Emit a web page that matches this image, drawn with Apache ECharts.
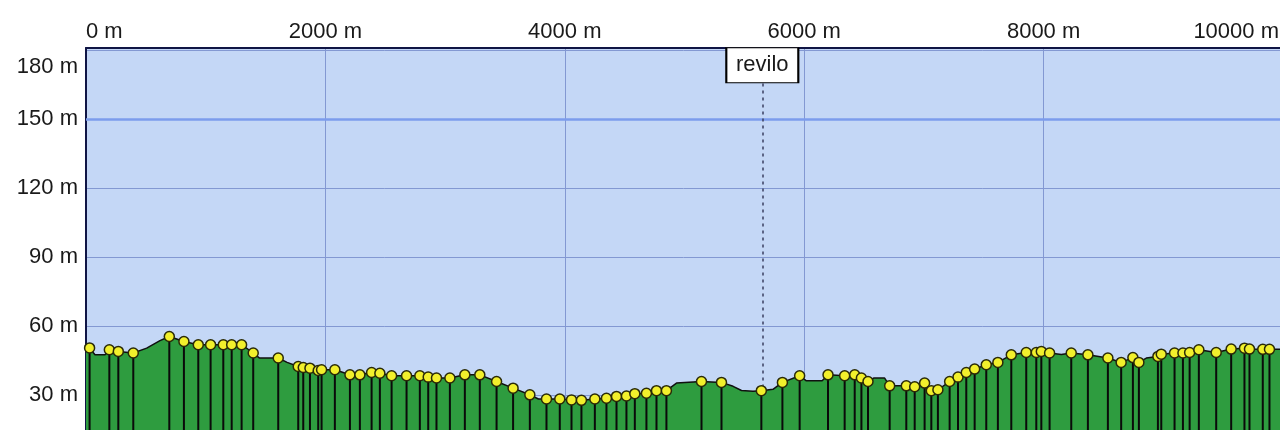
<!DOCTYPE html>
<html>
<head>
<meta charset="utf-8">
<script src="https://cdn.jsdelivr.net/npm/echarts@6/dist/echarts.min.js"></script>
<style>
html,body{margin:0;padding:0;background:#fff;}
#c{width:1280px;height:430px;}
</style>
</head>
<body>
<div id="c"></div>
<script>
// Distance ticks (m) and elevation ticks (m)
const xTicks = [0, 2000, 4000, 6000, 8000, 10000];
const yTicks = [30, 60, 90, 120, 150, 180];

// Waypoints (distance m, elevation m) — yellow dots with drop lines
const waypointDist = [30,195,270,395,696,818,938,1041,1147,1217,1300,1397,1606,1773,1815,1871,1940,
  1968,2079,2205,2288,2386,2455,2553,2678,2789,2859,2928,3040,3165,3290,3430,3568,3708,3847,3958,
  4056,4139,4251,4348,4432,4515,4585,4682,4766,4849,5142,5309,5642,5818,5962,
  6199,6338,6422,6478,6533,6714,6853,6923,7006,7062,7117,7215,7285,7354,7424,7521,7618,7730,7855,7939,
  7981,8050,8231,8370,8537,8648,8746,8796,8955,8983,9094,9164,9220,9297,9442,9567,9678,9720,9831,9887];
const waypointElev = [50.5,49.7,49,48.3,55.5,53.3,51.9,51.9,51.9,51.9,51.9,48.3,46.1,42.4,42,41.7,40.7,
  41,41,38.8,38.8,39.8,39.5,38.4,38.4,38.4,37.8,37.4,37.4,38.8,38.8,35.9,33,30.1,28.3,28.3,
  27.9,27.7,28.3,28.6,29.4,29.6,30.6,30.8,31.9,31.9,35.9,35.5,31.9,35.5,38.4,
  38.8,38.4,38.8,37.4,35.9,34,34,33.6,35.2,31.9,32.3,35.9,37.8,39.8,41.3,43.2,44.2,47.5,48.5,48.5,
  49,48.3,48.3,47.5,46.1,44.2,46.3,44.2,46.8,47.8,48.3,48.3,48.5,49.7,48.5,50,50.4,50,49.9,49.9];

// Extra profile vertices without waypoint markers
const profileDist = [0,75,159,507,618,1450,1680,3780,4933,5406,5476,5572,5739,6018,6150,6580,6672,8148,8858,10000];
const profileElev = [50.5,47.5,47.5,50.4,53.7,46.1,44.2,28.3,35.2,33.8,32,31.7,32.5,36.2,36.2,37.4,37.4,47.6,46.1,50];

// Marker
const markerName = 'revilo';
const markerDist = 5650;
const markerElev = 32;

const waypoints = waypointDist.map((d,i)=>[d, waypointElev[i]]);
const profile = waypoints.concat(profileDist.map((d,i)=>[d, profileElev[i]])).sort((a,b)=>a[0]-b[0]);

const FONT = 'Liberation Sans, Arial, sans-serif';
const FS = 22;
const TXT = '#1a1a1a';
const chart = echarts.init(document.getElementById('c'), null, {renderer:'canvas'});
chart.setOption({
  animation:false,
  backgroundColor:'#ffffff',
  grid:{left:86, top:48, width:1197, height:416, outerBoundsMode:'none', containLabel:false,
    show:true, backgroundColor:'#C4D7F6', borderWidth:0},
  xAxis:{
    type:'value', position:'top', min:xTicks[0], max:xTicks[xTicks.length-1], interval:2000,
    axisLine:{show:true, onZero:false, lineStyle:{color:'#101545', width:2}},
    axisTick:{show:false},
    axisLabel:{formatter:v=> v===xTicks[xTicks.length-1] ? '{r|'+v+' m}' : v+' m',
      fontFamily:FONT, fontSize:FS, color:TXT, margin:5,
      alignMinLabel:'left', alignMaxLabel:'right',
      rich:{r:{fontFamily:FONT, fontSize:FS, color:TXT, padding:[0,4,0,0]}}},
    splitLine:{show:true, lineStyle:{color:'#8398D2', width:1}}
  },
  yAxis:{
    type:'value', min:0, max:181, interval:30,
    axisLine:{show:true, onZero:false, lineStyle:{color:'#101545', width:2}},
    axisTick:{show:false},
    showMaxLabel:false,
    axisLabel:{fontFamily:FONT, fontSize:FS, color:TXT, margin:8,
      formatter:v=> yTicks.indexOf(v)<0 ? '' : (v===180 ? '{t|'+v+' m}' : v+' m'),
      rich:{t:{fontFamily:FONT, fontSize:FS, color:TXT, padding:[34,0,0,0]}}},
    splitLine:{show:true, lineStyle:{color:'#8398D2', width:1}}
  },
  series:[
    {
      type:'line', data:profile, symbol:'none', z:2,
      lineStyle:{color:'#101010', width:1.5},
      areaStyle:{color:'#2E9C3F', opacity:1},
      markLine:{silent:true, symbol:'none', label:{show:false},
        lineStyle:{color:'#7C9CEC', width:2.5, type:'solid'},
        data:[{yAxis:150}]}
    },
    {
      type:'bar', data:waypoints, barWidth:2, z:3,
      itemStyle:{color:'#0a0a0a'}
    },
    {
      type:'scatter', data:waypoints, z:5, symbol:'circle', symbolSize:10,
      itemStyle:{color:'#F2F02C', borderColor:'#2a2a08', borderWidth:1.5, opacity:1},
      markLine:{silent:true, symbol:'none', label:{show:false},
        lineStyle:{color:'#3a3f60', width:1.5, type:[3,4]},
        data:[[{coord:[markerDist,165.5]},{coord:[markerDist,markerElev]}]]},
      markPoint:{silent:true,
        data:[{coord:[markerDist,173.5], symbol:'rect', symbolSize:[72,35],
          itemStyle:{color:'#ffffff', borderColor:'#000000', borderWidth:1.5},
          label:{show:true, position:'inside', formatter:markerName, fontFamily:FONT, fontSize:FS, color:TXT}}]}
    }
  ]
});
</script>
</body>
</html>
